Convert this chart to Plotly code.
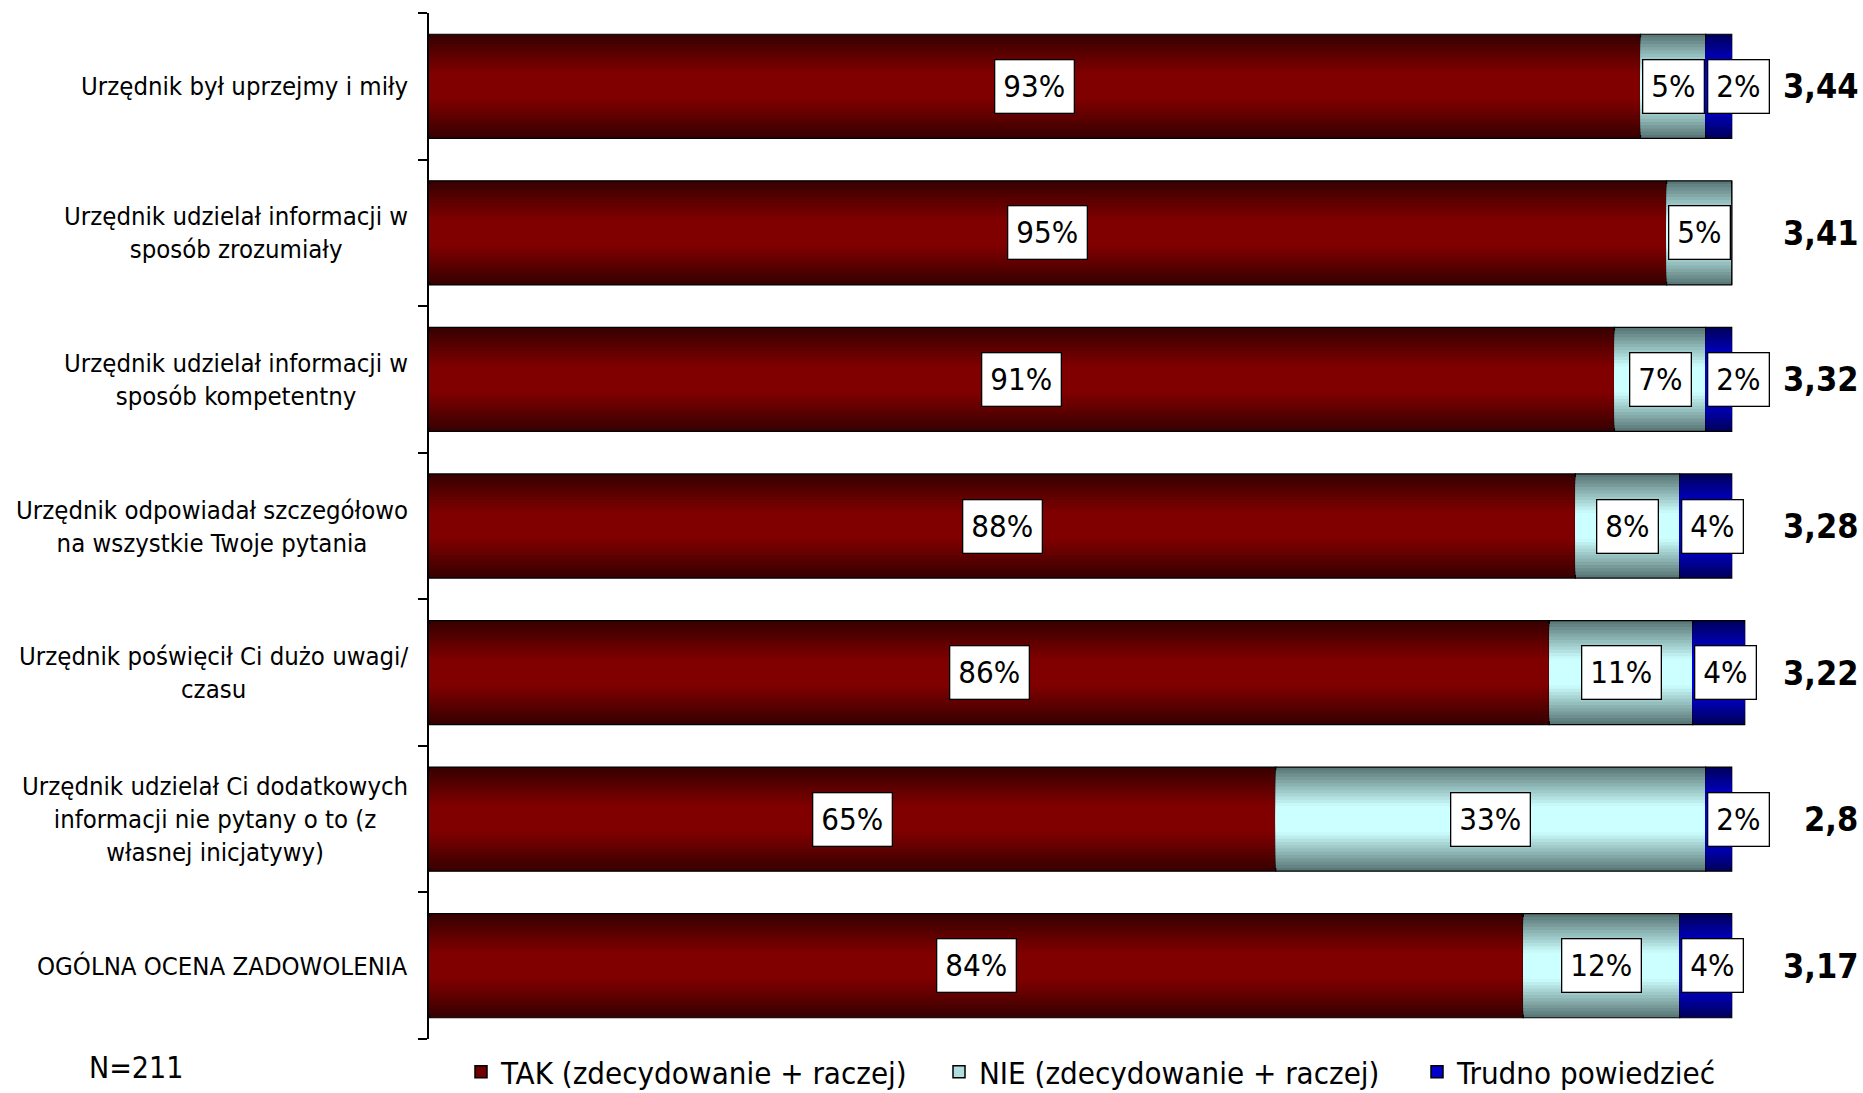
import plotly.graph_objects as go

categories = [
    "Urzędnik był uprzejmy i miły",
    "Urzędnik udzielał informacji w<br>sposób zrozumiały",
    "Urzędnik udzielał informacji w<br>sposób kompetentny",
    "Urzędnik odpowiadał szczegółowo<br>na wszystkie Twoje pytania",
    "Urzędnik poświęcił Ci dużo uwagi/<br>czasu",
    "Urzędnik udzielał Ci dodatkowych<br>informacji nie pytany o to (z<br>własnej inicjatywy)",
    "OGÓLNA OCENA ZADOWOLENIA",
]
tak = [93, 95, 91, 88, 86, 65, 84]
nie = [5, 5, 7, 8, 11, 33, 12]
trudno = [2, 0, 2, 4, 4, 2, 4]
means = ["3,44", "3,41", "3,32", "3,28", "3,22", "2,8", "3,17"]
series_names = ["TAK (zdecydowanie + raczej)", "NIE (zdecydowanie + raczej)", "Trudno powiedzieć"]

W_PX, H_PX = 1863, 1093
L, T, B = 429, 13, 54
XMAX = 110
PX_PER = 1303 / 100.0
plot_w = XMAX * PX_PER
R = W_PX - L - plot_w
plot_h = H_PX - T - B

FONT = "DejaVu Sans Condensed, DejaVu Sans, sans-serif"

styles = [
    ("#380000", "#800000"),
    ("#5a7877", "#ccffff"),
    ("#000060", "#0000f0"),
]

def lerp(c1, c2, t):
    a = [int(c1[i:i + 2], 16) for i in (1, 3, 5)]
    b = [int(c2[i:i + 2], 16) for i in (1, 3, 5)]
    return "#%02x%02x%02x" % tuple(round(a[j] + (b[j] - a[j]) * t) for j in range(3))

fig = go.Figure()
BAR_W = 0.71
N = 16
values = [tak, nie, trudno]
bases = [[0] * 7, tak[:], [t + n for t, n in zip(tak, nie)]]
yidx = list(range(len(categories)))

for s in range(3):
    edge, center = styles[s]
    for k in range(N):
        w = BAR_W * (1 - k / N)
        t = min(1.0, k / (N * 0.72))
        col = lerp(edge, center, t)
        fig.add_trace(go.Bar(
            y=yidx, x=values[s], base=bases[s], orientation="h",
            width=w, marker=dict(color=col,
                                 line=dict(color="#000000" if k == 0 else col, width=1.2 if k == 0 else 0)),
            showlegend=False, hoverinfo="skip",
        ))
    fig.add_trace(go.Bar(
        y=[None], x=[None], orientation="h", name=series_names[s],
        marker=dict(color=lerp(edge, center, 0.75), line=dict(color="#000000", width=1.5)),
        showlegend=True,
    ))

ann = []
def px_x(px):
    return (px - L) / plot_w
def px_y(py):
    return 1 - (py - T) / plot_h

LBL = dict(showarrow=False, bgcolor="#ffffff", bordercolor="#000000", borderwidth=1.3, borderpad=8,
           font=dict(family=FONT, size=31, color="#000000"))

for i in yidx:
    ann.append(dict(x=px_x(410), xref="paper", y=i, yref="y", text=categories[i],
                    xanchor="right", align="center", showarrow=False,
                    font=dict(family=FONT, size=25.5, color="#000000")))
    ann.append(dict(x=tak[i] / 2, y=i, xref="x", yref="y", text=f"{tak[i]}%", **LBL))
    if nie[i] > 0:
        ann.append(dict(x=tak[i] + nie[i] / 2, y=i, xref="x", yref="y", text=f"{nie[i]}%", **LBL))
    if trudno[i] > 0:
        ann.append(dict(x=tak[i] + nie[i], y=i, xref="x", yref="y", text=f"{trudno[i]}%",
                        xanchor="left", xshift=1, **LBL))
    ann.append(dict(x=px_x(1860), xref="paper", y=i, yref="y", text=f"<b>{means[i]}</b>",
                    xanchor="right", showarrow=False,
                    font=dict(family=FONT, size=34, color="#000000")))

ann.append(dict(x=px_x(87), xref="paper", y=px_y(1067), yref="paper", text="N=211",
                xanchor="left", yanchor="middle", showarrow=False,
                font=dict(family=FONT, size=30, color="#000000")))

fig.update_layout(
    width=W_PX, height=H_PX,
    margin=dict(l=L, r=R, t=T, b=B, pad=0, autoexpand=False),
    barmode="overlay",
    plot_bgcolor="#ffffff", paper_bgcolor="#ffffff",
    showlegend=True,
    legend=dict(orientation="h", x=px_x(427), xanchor="left", y=px_y(1072), yanchor="middle",
                indentation=34,
                font=dict(family=FONT, size=31, color="#000000"),
                entrywidth=399, entrywidthmode="pixels",
                bgcolor="rgba(0,0,0,0)", itemclick=False),
    annotations=ann,
    xaxis=dict(range=[0, XMAX], visible=False, fixedrange=True),
    yaxis=dict(range=[6.5, -0.5], tickmode="array",
               tickvals=[i - 0.5 for i in range(len(categories) + 1)],
               showticklabels=False, ticks="outside", ticklen=9, tickwidth=2, tickcolor="#000000",
               showline=True, linecolor="#000000", linewidth=2,
               showgrid=False, zeroline=False, fixedrange=True, type="linear"),
)

fig.write_html("out.html")
